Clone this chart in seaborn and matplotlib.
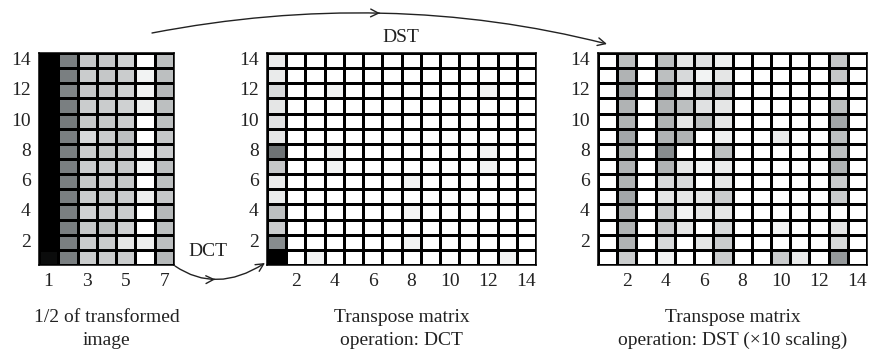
import numpy as np
import pandas as pd
import seaborn as sns
import matplotlib.pyplot as plt
from matplotlib.colors import LinearSegmentedColormap
from matplotlib.patches import FancyArrowPatch
from matplotlib.path import Path

# gray levels (0 = white, 1 = black); rows listed from row 14 (top) down to row 1
half_image = [
    [1.00, 0.50, 0.22, 0.22, 0.18, 0.00, 0.25],
    [1.00, 0.50, 0.20, 0.22, 0.20, 0.05, 0.25],
    [1.00, 0.48, 0.22, 0.22, 0.18, 0.05, 0.28],
    [1.00, 0.50, 0.20, 0.20, 0.18, 0.07, 0.25],
    [1.00, 0.52, 0.22, 0.22, 0.20, 0.00, 0.25],
    [1.00, 0.50, 0.15, 0.20, 0.25, 0.00, 0.22],
    [1.00, 0.50, 0.20, 0.22, 0.20, 0.05, 0.20],
    [1.00, 0.50, 0.20, 0.20, 0.22, 0.05, 0.25],
    [1.00, 0.50, 0.22, 0.20, 0.22, 0.00, 0.25],
    [1.00, 0.50, 0.20, 0.22, 0.20, 0.07, 0.22],
    [1.00, 0.50, 0.18, 0.20, 0.20, 0.00, 0.28],
    [1.00, 0.50, 0.22, 0.25, 0.18, 0.00, 0.25],
    [1.00, 0.50, 0.20, 0.20, 0.10, 0.07, 0.25],
    [0.95, 0.50, 0.20, 0.20, 0.20, 0.00, 0.28],
]

dct_matrix = [
    [0.08, 0, 0, 0, 0, 0, 0, 0, 0, 0, 0, 0, 0, 0],
    [0.08, 0, 0, 0, 0, 0, 0, 0, 0, 0, 0, 0, 0, 0],
    [0.15, 0, 0, 0.05, 0, 0, 0, 0, 0, 0, 0, 0.05, 0, 0],
    [0.10, 0, 0, 0, 0, 0, 0, 0, 0, 0, 0, 0, 0, 0],
    [0.12, 0, 0, 0, 0, 0, 0, 0, 0, 0, 0, 0, 0, 0],
    [0.10, 0, 0, 0, 0, 0, 0, 0, 0, 0, 0, 0, 0, 0],
    [0.55, 0, 0, 0.05, 0, 0, 0, 0, 0, 0, 0, 0.05, 0, 0],
    [0.22, 0, 0, 0.05, 0, 0, 0, 0, 0, 0, 0, 0.05, 0, 0],
    [0.08, 0, 0, 0, 0, 0, 0, 0.05, 0, 0, 0, 0, 0, 0],
    [0.08, 0, 0, 0, 0, 0, 0, 0, 0, 0, 0, 0, 0, 0],
    [0.25, 0, 0, 0, 0, 0, 0, 0.04, 0, 0, 0, 0, 0, 0],
    [0.20, 0, 0, 0, 0, 0, 0, 0, 0, 0, 0, 0, 0, 0],
    [0.45, 0, 0, 0, 0, 0, 0, 0.05, 0, 0, 0, 0, 0, 0],
    [1.00, 0, 0.05, 0, 0, 0, 0, 0, 0, 0, 0, 0, 0.05, 0],
]

dst_matrix = [
    [0, 0.25, 0, 0.25, 0.10, 0.12, 0.06, 0, 0, 0, 0, 0, 0.22, 0],
    [0, 0.30, 0, 0.25, 0.15, 0.05, 0.10, 0, 0, 0, 0, 0, 0.22, 0],
    [0, 0.35, 0, 0.35, 0.08, 0.18, 0.20, 0, 0, 0, 0, 0, 0.00, 0],
    [0, 0.30, 0, 0.30, 0.25, 0.12, 0.10, 0, 0, 0, 0, 0, 0.25, 0],
    [0, 0.30, 0, 0.30, 0.10, 0.25, 0.10, 0, 0, 0, 0, 0, 0.35, 0],
    [0, 0.35, 0, 0.30, 0.30, 0.00, 0.06, 0, 0, 0.08, 0, 0, 0.25, 0],
    [0, 0.30, 0, 0.45, 0.00, 0.00, 0.25, 0, 0, 0, 0, 0, 0.25, 0],
    [0, 0.30, 0, 0.30, 0.10, 0.05, 0.08, 0, 0, 0, 0, 0, 0.30, 0],
    [0, 0.30, 0, 0.15, 0.15, 0.00, 0.10, 0, 0, 0, 0, 0, 0.20, 0],
    [0, 0.35, 0, 0.10, 0.10, 0.10, 0.20, 0, 0, 0, 0, 0, 0.20, 0],
    [0, 0.30, 0, 0.20, 0.05, 0.10, 0.10, 0, 0, 0, 0, 0, 0.00, 0],
    [0, 0.30, 0, 0.20, 0.10, 0.00, 0.15, 0, 0, 0.05, 0, 0, 0.10, 0],
    [0, 0.30, 0, 0.15, 0.00, 0.10, 0.20, 0, 0, 0, 0, 0, 0.15, 0],
    [0, 0.20, 0, 0.05, 0.00, 0.00, 0.20, 0, 0, 0.20, 0.08, 0, 0.40, 0],
]

half_xticks = [1, 3, 5, 7]
full_xticks = [2, 4, 6, 8, 10, 12, 14]
row_ticks = [2, 4, 6, 8, 10, 12, 14]
captions = [
    "1/2 of transformed\nimage",
    "Transpose matrix\noperation: DCT",
    "Transpose matrix\noperation: DST (\u00d710 scaling)",
]

W, H = 872, 354
plt.rcParams['font.family'] = ['Liberation Serif', 'DejaVu Serif']
INK = '#222222'

fig = plt.figure(figsize=(W / 100, H / 100), dpi=100)
cmap = LinearSegmentedColormap.from_list('g', ['#ffffff', '#7a8082', '#000000'])


def px(x, y):
    return (x / W, 1 - y / H)


def draw_matrix(left, width, values, xticks, caption):
    ax = fig.add_axes([left / W, 89 / H, width / W, 212 / H])
    df = pd.DataFrame(values, index=list(range(14, 0, -1)),
                      columns=list(range(1, len(values[0]) + 1)))
    sns.heatmap(df, ax=ax, cmap=cmap, vmin=0, vmax=1, cbar=False,
                linewidths=0.8, linecolor='black')
    for s in ax.spines.values():
        s.set_visible(True)
        s.set_linewidth(1.1)
        s.set_color('black')
    ncol = df.shape[1]
    ax.set_xticks([c - 0.5 for c in xticks])
    ax.set_xticklabels([str(c) for c in xticks], rotation=0)
    ax.set_yticks([14 - r + 0.5 for r in row_ticks])
    ax.set_yticklabels([str(r) for r in row_ticks], rotation=0)
    ax.tick_params(length=0, labelsize=14, pad=6, colors=INK)
    ax.set_xlabel('')
    ax.set_ylabel('')
    ax.set_xlim(0, ncol)
    ax.set_ylim(14, 0)
    fig.text((left + width / 2) / W, 1 - 309 / H, caption, ha='center',
             va='top', fontsize=14, color=INK, linespacing=1.45)
    return ax


draw_matrix(39, 135, half_image, half_xticks, captions[0])
draw_matrix(267, 269, dct_matrix, full_xticks, captions[1])
draw_matrix(598, 269, dst_matrix, full_xticks, captions[2])


def curved_arrow(p0, p1, p2, label, label_xy):
    path = Path([px(*p0), px(*p1), px(*p2)],
                [Path.MOVETO, Path.CURVE3, Path.CURVE3])
    fig.add_artist(FancyArrowPatch(path=path, arrowstyle='->', mutation_scale=14,
                                   lw=1.0, color=INK, transform=fig.transFigure))
    # chevron in the middle of the curve
    mid = 0.25 * np.array(p0) + 0.5 * np.array(p1) + 0.25 * np.array(p2)
    d = np.array(p2) - np.array(p0)
    d = d / np.linalg.norm(d)
    fig.add_artist(FancyArrowPatch(px(*(mid - 6 * d)), px(*mid), arrowstyle='->',
                                   mutation_scale=14, lw=1.0, color=INK,
                                   transform=fig.transFigure))
    fig.text(*px(*label_xy), label, ha='center', va='center', fontsize=14,
             color=INK)


curved_arrow((152, 33), (386, -12), (607, 44), 'DST', (401, 37))
curved_arrow((175, 266), (216, 294), (265, 263), 'DCT', (208, 252))

fig.savefig('out.png', dpi=100)
